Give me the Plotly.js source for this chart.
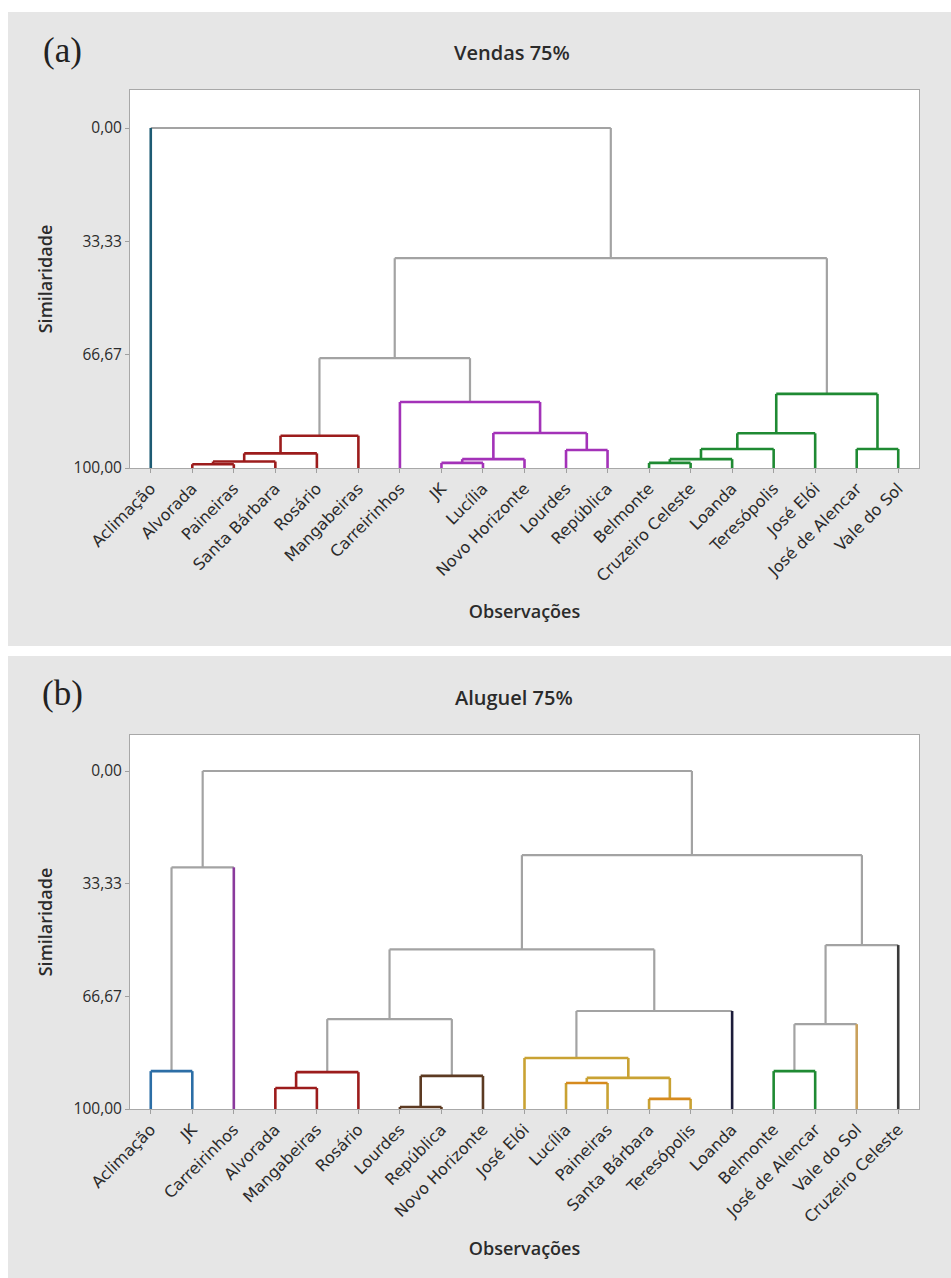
<!DOCTYPE html>
<html>
<head>
<meta charset="utf-8">
<script src="https://cdn.plot.ly/plotly-3.0.1.min.js"></script>
<style>html,body{margin:0;padding:0;background:#fff;}#chart{width:951px;height:1278px;}</style>
</head>
<body>
<div id="chart"></div>
<script>
// ---------- Panel (a): Vendas 75% ----------
const leavesA = ["Aclimação","Alvorada","Paineiras","Santa Bárbara","Rosário","Mangabeiras","Carreirinhos","JK","Lucília","Novo Horizonte","Lourdes","República","Belmonte","Cruzeiro Celeste","Loanda","Teresópolis","José Elói","José de Alencar","Vale do Sol"];
const leafColorA = ["teal","red","red","red","red","red","purple","purple","purple","purple","purple","purple","green","green","green","green","green","green","green"];
// merges are numbered from 19 upward (leaf indices 0..18)
const mergeLeftA   = [1, 19, 20, 21, 7, 23, 10, 24, 6, 22, 12, 29, 30, 31, 17, 32, 28, 0];
const mergeRightA  = [2, 3, 4, 5, 8, 9, 11, 25, 26, 27, 13, 14, 15, 16, 18, 33, 34, 35];
const mergeHeightA = [98.9, 98.1, 95.7, 90.5, 98.5, 97.4, 94.7, 89.7, 80.6, 67.7, 98.5, 97.4, 94.4, 89.8, 94.4, 78.2, 38.3, 0.0];
const mergeColorA  = ["red","red","red","red","purple","purple","purple","purple","purple","gray","green","green","green","green","green","green","gray","gray"];

// ---------- Panel (b): Aluguel 75% ----------
const leavesB = ["Aclimação","JK","Carreirinhos","Alvorada","Mangabeiras","Rosário","Lourdes","República","Novo Horizonte","José Elói","Lucília","Paineiras","Santa Bárbara","Teresópolis","Loanda","Belmonte","José de Alencar","Vale do Sol","Cruzeiro Celeste"];
const leafColorB = ["blue","blue","violet","red","red","red","brown","brown","brown","gold","gold","gold","gold","gold","navy","green","green","tan","dark"];
const mergeLeftB   = [0, 19, 3, 21, 6, 23, 22, 10, 12, 26, 9, 29, 25, 15, 32, 33, 31, 20];
const mergeRightB  = [1, 2, 4, 5, 7, 8, 24, 11, 13, 27, 28, 14, 30, 16, 17, 18, 34, 35];
const mergeHeightB = [88.8, 28.5, 93.8, 89.1, 99.4, 90.2, 73.4, 92.3, 97.0, 90.8, 84.9, 71.0, 52.8, 88.8, 74.9, 51.5, 24.9, 0.0];
const mergeColorB  = ["blue","gray","red","red","brown","brown","gray","orange","orange","gold","gold","gray","gray","green","gray","gray","gray","gray"];

// tick labels of the similarity axis
const simTickVals = [0, 33.33, 66.67, 100];
const simTickText = ["0,00", "33,33", "66,67", "100,00"];

// ---------- styles ----------
const palette = {
  gray: "#a3a3a3", teal: "#1d5b73", red: "#9c1c1c", purple: "#a332b8", green: "#1f8a33",
  blue: "#2c6ea6", violet: "#8a3a9c", brown: "#5c3a22", gold: "#c9a233", orange: "#d68a1e",
  navy: "#1c1c3a", tan: "#c9a15c", dark: "#3a3a3a"
};

function buildTraces(leaves, leafColor, L, R, H, C, xa, ya) {
  const n = leaves.length;
  const xpos = [], hgt = [], col = [];
  for (let i = 0; i < n; i++) { xpos.push(i); hgt.push(100); col.push(leafColor[i]); }
  const segs = {};
  function add(c, xs, ys) {
    if (!segs[c]) segs[c] = {x: [], y: []};
    segs[c].x.push(...xs, null); segs[c].y.push(...ys, null);
  }
  for (let k = 0; k < L.length; k++) {
    const a = L[k], b = R[k], h = H[k], c = C[k];
    const xa_ = xpos[a], xb_ = xpos[b];
    const legA = a < n ? col[a] : c;
    const legB = b < n ? col[b] : c;
    add(legA, [xa_, xa_], [hgt[a], h]);
    add(legB, [xb_, xb_], [hgt[b], h]);
    add(c, [xa_, xb_], [h, h]);
    xpos.push((xa_ + xb_) / 2); hgt.push(h); col.push(c);
  }
  const traces = [];
  const order = Object.keys(segs).sort((p, q) => (p === "gray" ? -1 : 0) - (q === "gray" ? -1 : 0));
  for (const c of order) {
    traces.push({
      type: "scatter", mode: "lines", x: segs[c].x, y: segs[c].y,
      xaxis: xa, yaxis: ya, connectgaps: false, hoverinfo: "skip", showlegend: false,
      line: {color: palette[c], width: c === "gray" ? 2.2 : 2.6}
    });
  }
  return traces;
}

const data = [
  ...buildTraces(leavesA, leafColorA, mergeLeftA, mergeRightA, mergeHeightA, mergeColorA, "x", "y"),
  ...buildTraces(leavesB, leafColorB, mergeLeftB, mergeRightB, mergeHeightB, mergeColorB, "x2", "y2")
];

const W = 951, Hh = 1278;
const px = v => v / W, py = v => 1 - v / Hh;
const txt = "#2b2b2b";
const baseFont = "Open Sans, Noto Sans, sans-serif";

function xAxis(leaves, anchor, standoff) {
  return {
    domain: [px(130), px(919)], anchor: anchor, range: [-0.5, leaves.length - 0.5],
    tickvals: leaves.map((_, i) => i), ticktext: leaves, tickangle: -45,
    tickfont: {family: "DejaVu Sans, sans-serif", size: 16, color: txt},
    ticks: "outside", ticklen: 4, tickcolor: "#a0a0a0", tickwidth: 1,
    showline: true, mirror: true, linecolor: "#a8a8a8", linewidth: 1,
    showgrid: false, zeroline: false, fixedrange: true,
    title: {text: "Observações", font: {family: baseFont, size: 18, color: txt, weight: 600}, standoff: standoff}
  };
}
function yAxis(top, bottom, zeroPx, hundredPx, anchor) {
  const per = (hundredPx - zeroPx) / 100;
  const topVal = (top - zeroPx) / per;
  return {
    domain: [py(bottom), py(top)], anchor: anchor, range: [100, topVal],
    tickvals: simTickVals, ticktext: simTickText,
    tickfont: {family: baseFont, size: 15.5, color: txt},
    ticks: "outside", ticklen: 4, tickcolor: "#a0a0a0", tickwidth: 1,
    showline: true, mirror: true, linecolor: "#a8a8a8", linewidth: 1,
    showgrid: false, zeroline: false, fixedrange: true,
    title: {text: "Similaridade", font: {family: baseFont, size: 18, color: txt, weight: 600}, standoff: 16}
  };
}

const layout = {
  width: W, height: Hh, margin: {l: 0, r: 0, t: 0, b: 0},
  paper_bgcolor: "#ffffff", plot_bgcolor: "#ffffff", showlegend: false,
  xaxis: xAxis(leavesA, "y", 20),
  yaxis: yAxis(90, 468, 128, 468, "x"),
  xaxis2: xAxis(leavesB, "y2", 16),
  yaxis2: yAxis(735, 1109, 771, 1109, "x2"),
  shapes: [
    {type: "rect", xref: "paper", yref: "paper", x0: px(8), x1: 1, y0: py(646), y1: py(12), fillcolor: "#e6e6e6", line: {width: 0}, layer: "below"},
    {type: "rect", xref: "paper", yref: "paper", x0: px(8), x1: 1, y0: 0, y1: py(656), fillcolor: "#e6e6e6", line: {width: 0}, layer: "below"},
    {type: "rect", xref: "x domain", yref: "y domain", x0: 0, x1: 1, y0: 0, y1: 1, fillcolor: "#ffffff", line: {width: 0}, layer: "below"},
    {type: "rect", xref: "x2 domain", yref: "y2 domain", x0: 0, x1: 1, y0: 0, y1: 1, fillcolor: "#ffffff", line: {width: 0}, layer: "below"}
  ],
  annotations: [
    {xref: "paper", yref: "paper", x: px(512), y: py(52), text: "Vendas 75%", showarrow: false, xanchor: "center", yanchor: "middle", font: {family: baseFont, size: 20, color: txt, weight: 600}},
    {xref: "paper", yref: "paper", x: px(514), y: py(697), text: "Aluguel 75%", showarrow: false, xanchor: "center", yanchor: "middle", font: {family: baseFont, size: 20, color: txt, weight: 600}},
    {xref: "paper", yref: "paper", x: px(62), y: py(50), text: "(a)", showarrow: false, xanchor: "center", yanchor: "middle", font: {family: "Liberation Serif, serif", size: 35, color: "#222"}},
    {xref: "paper", yref: "paper", x: px(62), y: py(694), text: "(b)", showarrow: false, xanchor: "center", yanchor: "middle", font: {family: "Liberation Serif, serif", size: 35, color: "#222"}}
  ]
};

Plotly.newPlot("chart", data, layout, {displayModeBar: false, staticPlot: true});
</script>
</body>
</html>
